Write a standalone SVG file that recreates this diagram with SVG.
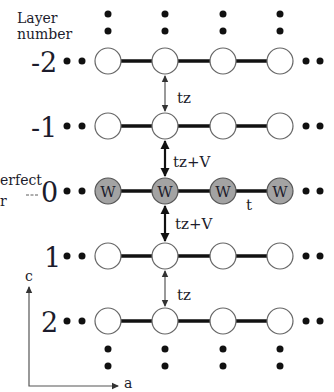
<svg xmlns="http://www.w3.org/2000/svg" width="334" height="392" viewBox="0 0 334 392">
<defs>
<style>
text{font-family:'DejaVu Serif',serif;fill:#1c1c2c}
.num{font-size:27px}
.lbl{font-size:14px}
.tz{font-size:15px}
.bond{stroke:#111;stroke-width:3.5}
.o{fill:#fff;stroke:#666;stroke-width:1.2}
.w{fill:#a3a3a3;stroke:#555;stroke-width:1.2}
.d{fill:#111}
.thin{stroke:#555;stroke-width:1.2;fill:none}
.thick{stroke:#111;stroke-width:2.2;fill:none}
</style>
<marker id="ah" markerWidth="8" markerHeight="8" refX="6" refY="4" orient="auto-start-reverse" markerUnits="userSpaceOnUse"><path d="M0,0.8 L7,4 L0,7.2 z" fill="#333"/></marker>
<marker id="ahb" markerWidth="10" markerHeight="10" refX="8" refY="5" orient="auto-start-reverse" markerUnits="userSpaceOnUse"><path d="M0,0.5 L9,5 L0,9.5 z" fill="#111"/></marker>
</defs>
<rect width="334" height="392" fill="#fff"/>
<g id="labels">
<text class="lbl" x="17" y="23">Layer</text>
<text class="lbl" x="17" y="39">number</text>
<text class="num" x="31" y="72">-2</text>
<text class="num" x="31" y="137">-1</text>
<text class="num" x="41" y="202">0</text>
<text class="num" x="44" y="267">1</text>
<text class="num" x="41" y="332">2</text>
<text class="lbl" x="0" y="185" font-size="12">erfect</text>
<text class="lbl" x="0" y="206" font-size="12">r</text>
<line x1="26" y1="195" x2="38" y2="195" stroke="#333" stroke-width="0.8" stroke-dasharray="3,1.5"/>
</g>
<g id="connectors">
<line class="bond" x1="108" y1="61" x2="280" y2="61"/>
<line class="bond" x1="108" y1="126" x2="280" y2="126"/>
<line class="bond" x1="108" y1="191" x2="280" y2="191"/>
<line class="bond" x1="108" y1="256" x2="280" y2="256"/>
<line class="bond" x1="108" y1="321" x2="280" y2="321"/>
<line class="thin" x1="165" y1="76" x2="165" y2="111" marker-start="url(#ah)" marker-end="url(#ah)"/>
<line class="thick" x1="165" y1="141" x2="165" y2="176" marker-start="url(#ahb)" marker-end="url(#ahb)"/>
<line class="thick" x1="165" y1="206" x2="165" y2="241" marker-start="url(#ahb)" marker-end="url(#ahb)"/>
<line class="thin" x1="165" y1="271" x2="165" y2="306" marker-start="url(#ah)" marker-end="url(#ah)"/>
<text class="tz" x="177" y="103">tz</text>
<text class="tz" x="173" y="167">tz+V</text>
<text class="tz" x="175" y="229">tz+V</text>
<text class="tz" x="246" y="210">t</text>
<text class="tz" x="177" y="300">tz</text>
</g>
<g id="row-m2">
<circle class="o" cx="108" cy="61" r="13"/><circle class="o" cx="165" cy="61" r="13"/><circle class="o" cx="223" cy="61" r="13"/><circle class="o" cx="280" cy="61" r="13"/>
</g>
<g id="row-m1">
<circle class="o" cx="108" cy="126" r="13"/><circle class="o" cx="165" cy="126" r="13"/><circle class="o" cx="223" cy="126" r="13"/><circle class="o" cx="280" cy="126" r="13"/>
</g>
<g id="row-0">
<circle class="w" cx="108" cy="191" r="13"/><circle class="w" cx="165" cy="191" r="13"/><circle class="w" cx="223" cy="191" r="13"/><circle class="w" cx="280" cy="191" r="13"/>
<text class="tz" x="108" y="197" text-anchor="middle">W</text>
<text class="tz" x="165" y="197" text-anchor="middle">W</text>
<text class="tz" x="223" y="197" text-anchor="middle">W</text>
<text class="tz" x="280" y="197" text-anchor="middle">W</text>
</g>
<g id="row-1">
<circle class="o" cx="108" cy="256" r="13"/><circle class="o" cx="165" cy="256" r="13"/><circle class="o" cx="223" cy="256" r="13"/><circle class="o" cx="280" cy="256" r="13"/>
</g>
<g id="row-2">
<circle class="o" cx="108" cy="321" r="13"/><circle class="o" cx="165" cy="321" r="13"/><circle class="o" cx="223" cy="321" r="13"/><circle class="o" cx="280" cy="321" r="13"/>
</g>
<g id="dots">
<circle class="d" cx="108" cy="14" r="3.5"/><circle class="d" cx="108" cy="31" r="3.5"/>
<circle class="d" cx="165" cy="14" r="3.5"/><circle class="d" cx="165" cy="31" r="3.5"/>
<circle class="d" cx="223" cy="14" r="3.5"/><circle class="d" cx="223" cy="31" r="3.5"/>
<circle class="d" cx="280" cy="14" r="3.5"/><circle class="d" cx="280" cy="31" r="3.5"/>
<circle class="d" cx="108" cy="349" r="3.5"/><circle class="d" cx="108" cy="366" r="3.5"/>
<circle class="d" cx="165" cy="349" r="3.5"/><circle class="d" cx="165" cy="366" r="3.5"/>
<circle class="d" cx="223" cy="349" r="3.5"/><circle class="d" cx="223" cy="366" r="3.5"/>
<circle class="d" cx="280" cy="349" r="3.5"/><circle class="d" cx="280" cy="366" r="3.5"/>
<circle class="d" cx="67" cy="61" r="3.5"/><circle class="d" cx="82" cy="61" r="3.5"/>
<circle class="d" cx="67" cy="126" r="3.5"/><circle class="d" cx="82" cy="126" r="3.5"/>
<circle class="d" cx="67" cy="191" r="3.5"/><circle class="d" cx="82" cy="191" r="3.5"/>
<circle class="d" cx="67" cy="256" r="3.5"/><circle class="d" cx="82" cy="256" r="3.5"/>
<circle class="d" cx="67" cy="321" r="3.5"/><circle class="d" cx="82" cy="321" r="3.5"/>
<circle class="d" cx="306" cy="61" r="3.5"/><circle class="d" cx="320" cy="61" r="3.5"/>
<circle class="d" cx="306" cy="126" r="3.5"/><circle class="d" cx="320" cy="126" r="3.5"/>
<circle class="d" cx="306" cy="191" r="3.5"/><circle class="d" cx="320" cy="191" r="3.5"/>
<circle class="d" cx="306" cy="256" r="3.5"/><circle class="d" cx="320" cy="256" r="3.5"/>
<circle class="d" cx="306" cy="321" r="3.5"/><circle class="d" cx="320" cy="321" r="3.5"/>
</g>
<g id="axes">
<polyline class="thin" points="29,287 29,386 118,386" marker-start="url(#ah)" marker-end="url(#ah)"/>
<text class="lbl" x="25" y="281">c</text>
<text class="lbl" x="124" y="388">a</text>
</g>
</svg>
